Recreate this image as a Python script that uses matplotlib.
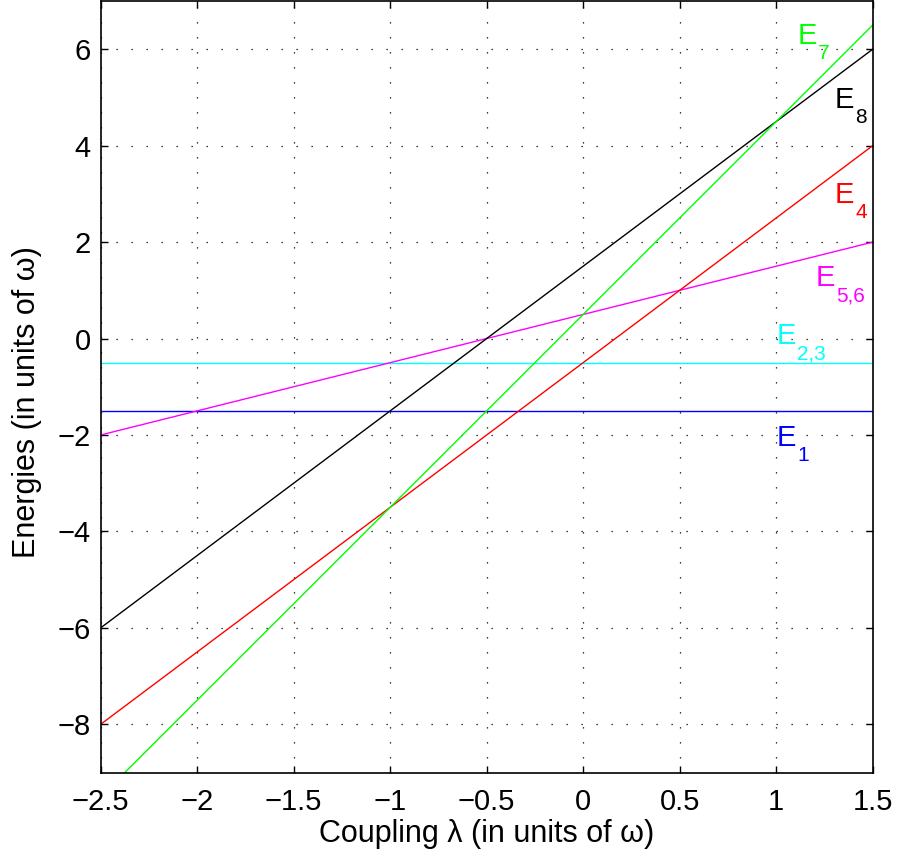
import matplotlib
matplotlib.use("Agg")
import matplotlib.pyplot as plt

plt.rcParams['font.family'] = ['Liberation Sans', 'DejaVu Sans']

# coupling endpoints
lam = [-2.5, 1.5]
E1 = [-1.5, -1.5]
E23 = [-0.5, -0.5]
E56 = [-2.0, 2.0]
E4 = [-8.0, 4.0]
E8 = [-6.0, 6.0]
E7 = [-9.5, 6.5]

series = [
    (E1, '#0000ff', '1', (1.004, -2.23)),
    (E23, '#00ffff', '2,3', (1.004, -0.116)),
    (E56, '#ff00ff', '5,6', (1.206, 1.09)),
    (E4, '#ff0000', '4', (1.305, 2.81)),
    (E8, '#000000', '8', (1.305, 4.78)),
    (E7, '#00ff00', '7', (1.11, 6.11)),
]

fig = plt.figure(figsize=(8.99, 8.61), dpi=100)
ax = fig.add_axes([100.7/899, 1 - 772.5/861, (872.7-100.7)/899, (772.5-1)/861])

S = 21
for y, c, sub, pos in series:
    ax.plot(lam, y, color=c, lw=1.0)
    ax.text(pos[0], pos[1], 'E', color=c, fontsize=S, ha='left', va='baseline')
    ax.annotate(sub, xy=pos, xytext=(0.69*S, -0.52*S), textcoords='offset points',
                color=c, fontsize=15, ha='left', va='baseline')

ax.set_xlim(-2.5, 1.5)
ax.set_ylim(-9, 7)
ax.set_xticks([-2.5, -2, -1.5, -1, -0.5, 0, 0.5, 1, 1.5])
ax.set_xticklabels(['\u22122.5', '\u22122', '\u22121.5', '\u22121', '\u22120.5', '0', '0.5', '1', '1.5'])
ax.set_yticks([-8, -6, -4, -2, 0, 2, 4, 6])
ax.set_yticklabels(['\u22128', '\u22126', '\u22124', '\u22122', '0', '2', '4', '6'])
ax.tick_params(direction='in', top=True, right=True, length=5, width=1, labelsize=21)
ax.tick_params(axis='x', pad=11)
ax.tick_params(axis='y', pad=7)
ax.grid(True, color='black', linestyle=(0, (1, 11)), linewidth=0.9)
for s in ax.spines.values():
    s.set_linewidth(1.2)

ax.set_xlabel('Coupling \u03bb (in units of \u03c9)', fontsize=22, labelpad=2)
ax.set_ylabel('Energies (in units of \u03c9)', fontsize=22, labelpad=11)
ax.yaxis.label.set_y(0.48)

fig.savefig('out.png', dpi=100)
